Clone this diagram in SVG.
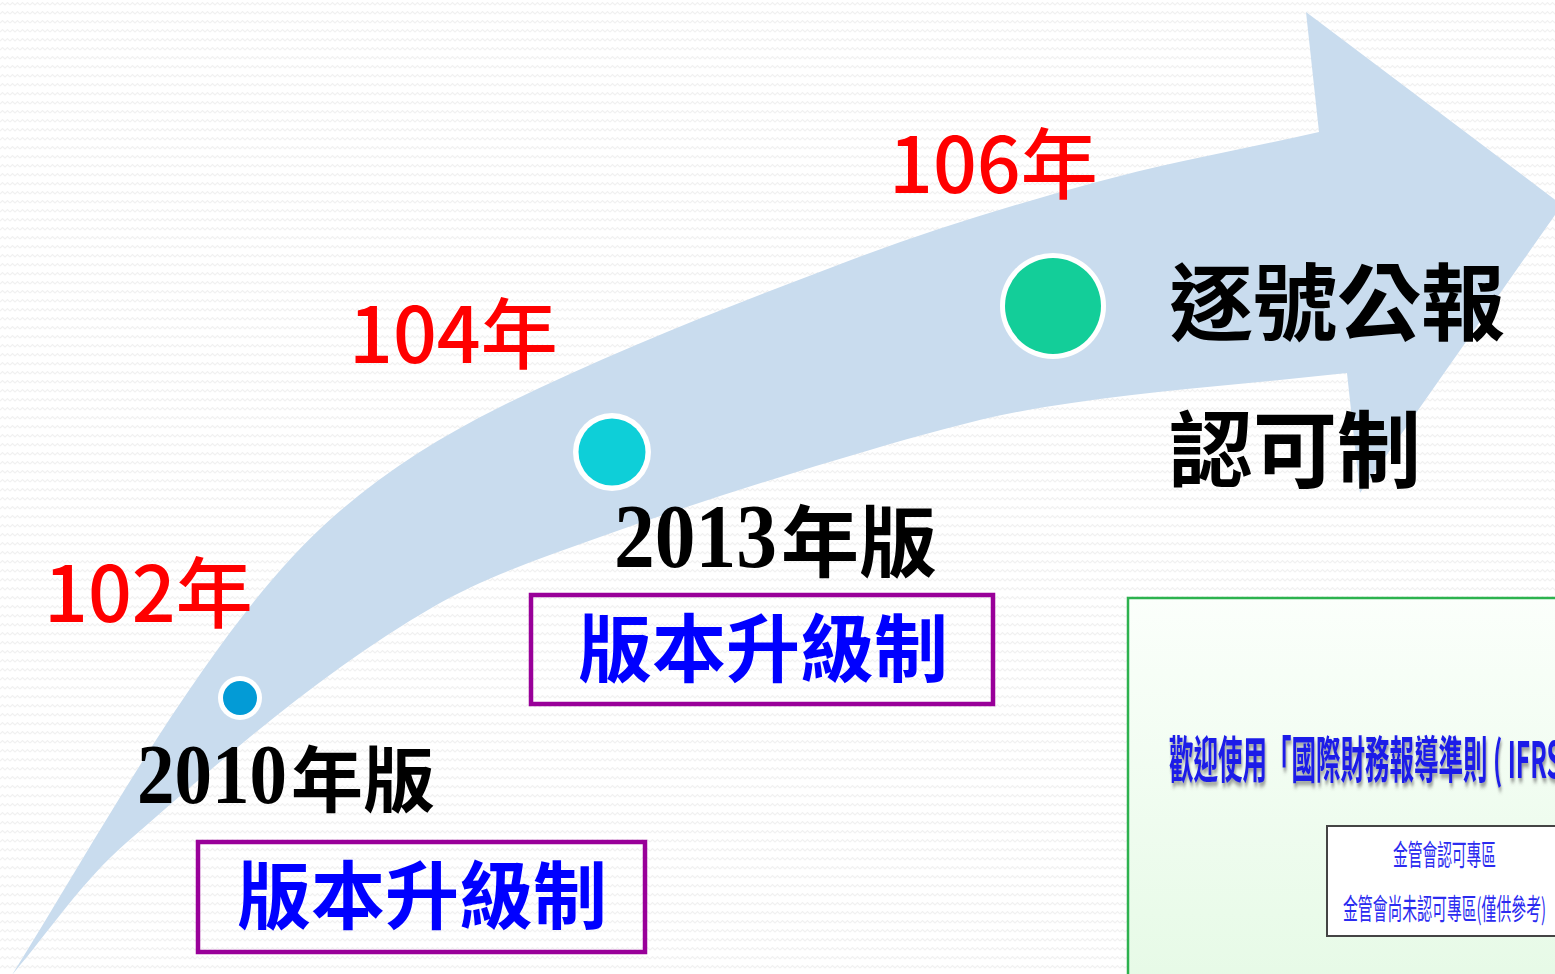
<svg xmlns="http://www.w3.org/2000/svg" width="1555" height="974" viewBox="0 0 1555 974">
<style>
.red{font-family:"Noto Sans CJK TC","Noto Sans",sans-serif;font-size:77px;fill:#FF0000;font-weight:500}
.num{font-family:"Liberation Serif",serif;fill:#000;font-weight:bold}
.cjk{font-family:"Noto Sans CJK TC",sans-serif;fill:#000;font-weight:bold}
.boxtxt{font-family:"Noto Sans CJK TC",sans-serif;font-size:74px;fill:#0000FF;font-weight:bold}
.box{fill:none;stroke:#990099;stroke-width:4.5}
.big{font-family:"Noto Sans CJK TC",sans-serif;font-size:84px;fill:#000;font-weight:bold}
.dotring{fill:#fff}
.small{font-family:"Noto Sans CJK TC",sans-serif;font-size:29px;fill:#2B2BF0}
</style>
<defs>
<pattern id="bg" width="10" height="9" patternUnits="userSpaceOnUse">
<path d="M0,5 L2.5,2.5 L5,5 L7.5,2.5 L10,5" fill="none" stroke="#f1f1f1" stroke-width="1.2"/>
</pattern>
<linearGradient id="gbox" x1="0" y1="0" x2="0" y2="1">
<stop offset="0" stop-color="#fbfffb"/>
<stop offset="1" stop-color="#e6fae6"/>
</linearGradient>
<filter id="sh" x="-5%" y="-30%" width="110%" height="170%">
<feDropShadow dx="2" dy="4" stdDeviation="2" flood-color="#555" flood-opacity="0.6"/>
</filter>
</defs>
<rect width="1555" height="974" fill="#fff"/>
<rect width="1555" height="974" fill="url(#bg)"/>

<g id="connectors">
<path id="timeline-arrow" fill="#C9DCEE" d="M12,975 C75.7,872.6 134.2,767.9 203,670 C241.5,615.3 282.9,561.4 333,517 C383,472.8 440.2,436.6 500,407 C613.6,350.7 732.4,304.8 851,260 C930.2,230.1 1011.3,205.4 1093,183 C1167.5,162.6 1243.7,149 1319,132 L1306,12 L1562,205 L1360,493 L1347,373 C1246.3,384.3 1145,390.9 1045,407 C985.7,416.6 927.7,433.2 870,450 C779.2,476.5 689,505 600,537 C543.2,557.4 485.2,576.7 433,607 C321.3,671.8 223.3,758.2 126,843 C82.3,881 50,930.3 12,975 Z"/>
</g>

<g id="node-102">
<text class="red" x="44" y="622">102年</text>
<circle class="dotring" cx="240" cy="698" r="22"/>
<circle cx="240" cy="698" r="17" fill="#039BD6"/>
<text class="num" x="137" y="803" font-size="85" textLength="150" lengthAdjust="spacingAndGlyphs">2010</text>
<text class="cjk" x="291" y="806" font-size="72">年版</text>
<rect class="box" x="198" y="842" width="447" height="110"/>
<text class="boxtxt" x="237" y="923">版本升級制</text>
</g>

<g id="node-104">
<text class="red" x="349" y="363">104年</text>
<circle class="dotring" cx="612" cy="452" r="39"/>
<circle cx="612" cy="452" r="33.5" fill="#0ECFD8"/>
<text class="num" x="614" y="567" font-size="92" textLength="163" lengthAdjust="spacingAndGlyphs">2013</text>
<text class="cjk" x="781" y="571" font-size="78">年版</text>
<rect class="box" x="531" y="595" width="462" height="109"/>
<text class="boxtxt" x="578" y="676">版本升級制</text>
</g>

<g id="node-106">
<text class="red" x="889" y="193">106年</text>
<circle class="dotring" cx="1053" cy="306" r="53"/>
<circle cx="1053" cy="306" r="48" fill="#13CE99"/>
<text class="big" x="1169" y="334">逐號公報</text>
<text class="big" x="1169" y="481">認可制</text>
</g>

<g id="node-ifrs">
<rect x="1128" y="598" width="440" height="390" fill="url(#gbox)" stroke="#2DB24F" stroke-width="2.5"/>
<text transform="translate(1169,778) scale(0.49,1)" font-family="'Noto Sans CJK TC',sans-serif" font-size="50" font-weight="bold" fill="#1C1CE8" filter="url(#sh)">歡迎使用「國際財務報導準則 ( IFRS</text>
<rect x="1327" y="826" width="240" height="110" fill="#fff" stroke="#444" stroke-width="2"/>
<text class="small" x="1393" y="866" textLength="103" lengthAdjust="spacingAndGlyphs">金管會認可專區</text>
<text class="small" x="1343" y="920" textLength="203" lengthAdjust="spacingAndGlyphs">金管會尚未認可專區(僅供參考)</text>
</g>
</svg>
